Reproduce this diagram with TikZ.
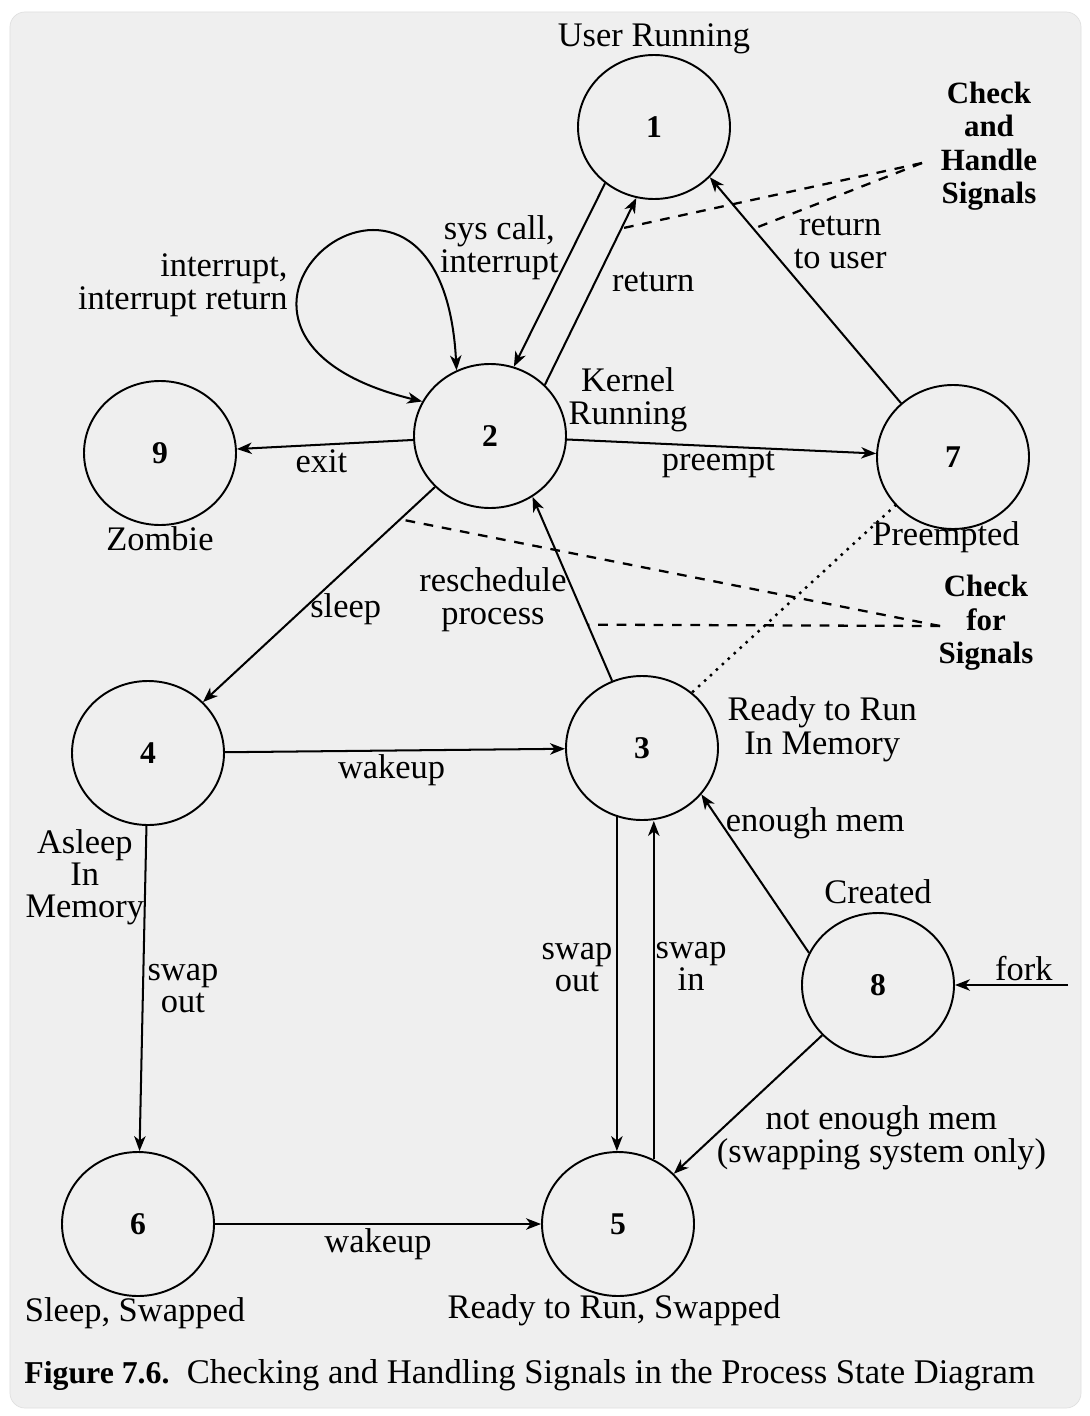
\documentclass[tikz,border=0pt]{standalone}
\usepackage{fontspec}
\setmainfont{Liberation Serif}
\usepackage{tikz}
\usetikzlibrary{shapes,arrows.meta,positioning}
\definecolor{paper}{RGB}{239,239,239}
\tikzstyle{state}=[ellipse,draw=black,line width=1.1pt,inner sep=0pt,minimum width=3.04cm,minimum height=2.88cm,font=\fontsize{18}{18}\selectfont\bfseries]
\tikzstyle{trans}=[->,>={Stealth[length=8.5pt,width=6.5pt,inset=2.5pt]},line width=1.15pt]
\tikzstyle{check}=[dash pattern=on 5.5pt off 5pt,line width=1.3pt]
\tikzstyle{peek}=[line width=2pt,line cap=round,dash pattern=on 0pt off 4.6pt]
\tikzstyle{lbl}=[inner sep=2pt,align=center,font=\fontsize{19.6}{19}\selectfont]
\tikzstyle{note}=[inner sep=0pt,align=center,font=\fontsize{17.6}{19}\selectfont\bfseries]

\begin{document}
\begin{tikzpicture}[on grid]

    \useasboundingbox (0,0) rectangle (21.8,-28.32);
    \fill[white] (0,0) rectangle (21.8,-28.32);
    \filldraw[fill=paper,draw=black!12,rounded corners=0.3cm] (0.2,-0.24) rectangle (21.62,-28.16);

    % Zustaende
    \node[state, label={[lbl,label distance=-2pt]above:User Running}] (s1) at (13.08,-2.54) {1};
    \node[state, label={[lbl,anchor=west,label distance=4pt]26:Kernel\\Running}] (s2) [below left=6.18 and 3.28 of s1] {2};
    \node[state, label={[lbl,label distance=-2pt]below:Zombie}] (s9) [below left=0.34 and 6.60 of s2] {9};
    \node[state, label={[lbl,label distance=-7pt,xshift=-0.14cm]below:Preempted}] (s7) [below right=0.42 and 9.26 of s2] {7};
    \node[state, label={[lbl,anchor=west,label distance=4pt]13:Ready to Run\\In Memory}] (s3) [below right=6.24 and 3.04 of s2] {3};
    \node[state, label={[lbl,anchor=north east,label distance=0pt]below:Asleep\\[-1pt]In\\[-1pt]Memory}] (s4) [below left=0.10 and 9.88 of s3] {4};
    \node[state, label={[lbl,label distance=2.5pt]above:Created}] (s8) [below right=4.74 and 4.72 of s3] {8};
    \node[state, label={[lbl,label distance=-3.4pt,xshift=-0.08cm]below:Ready to Run, Swapped}] (s5) [below left=9.52 and 0.48 of s3] {5};
    \node[state, label={[lbl,label distance=-2pt,xshift=-0.06cm]below:Sleep, Swapped}] (s6) [left=9.60 of s5] {6};
    \coordinate[right=3.8 of s8] (fork);

    % Hinweise
    \node[note] (chkA) at (19.78,-2.92) {Check\\and\\Handle\\Signals};
    \node[note] (chkB) at (19.72,-12.46) {Check\\for\\Signals};
    \coordinate (hdl) at (18.44,-3.26);
    \coordinate (sig) at (18.80,-12.52);

    % Uebergaenge
    \draw[trans] (s1.229) -- node[pos=0.35,left=0.2cm,lbl] {sys call,\\interrupt} (s2.71);
    \draw[trans] (s2.43) -- node[pos=0.55,right=0.25cm,lbl] {return} coordinate[pos=0.837] (ret) (s1.256);
    \draw[trans] (s7.134) -- node[pos=0.71,right=0.48cm,lbl] {return\\to user} coordinate[pos=0.772] (rtu) (s1.318);
    \draw[trans,<->] (s2.153) .. controls +(-5.76,1.4) and +(-0.3,5.84) .. node[pos=0.37,left=0.2cm,lbl,align=right] {interrupt,\\interrupt return} (s2.117);
    \draw[trans] (s2) -- node[pos=0.52,below,lbl] {exit} (s9);
    \draw[trans] (s2) -- node[pos=0.49,below,lbl] {preempt} (s7);
    \draw[trans] (s2) -- node[pos=0.57,right=0.06cm,lbl] {sleep} coordinate[pos=0.15] (slp) (s4);
    \draw[trans] (s3.114) -- node[pos=0.44,left=0.12cm,lbl] {reschedule\\process} coordinate[pos=0.305] (rsc) (s2.305);
    \draw[trans] (s4) -- node[pos=0.49,below,lbl] {wakeup} (s3);
    \draw[trans] (s3.250) -- node[pos=0.45,left,lbl] {swap\\[-1pt]out} (s3.250 |- s5.north);
    \draw[trans] (s5.61) -- node[pos=0.57,right,lbl,inner sep=0.5pt] {swap\\[-1pt]in} (s5.61 |- s3.south);
    \draw[trans] (s8.155) -- node[pos=0.815,right,lbl] {enough mem} (s3.322);
    \draw[trans] (s8.222) -- node[pos=0.74,right,lbl] {not enough mem\\(swapping system only)} (s5.42);
    \draw[trans] (fork) -- node[pos=0.39,above,lbl] {fork} (s8);
    \draw[trans] (s4) -- node[pos=0.5,right,lbl] {swap\\[-1pt]out} (s6);
    \draw[trans] (s6) -- node[below,lbl] {wakeup} (s5);

    % Signale
    \draw[peek] (s7.220) -- (s3.48);
    \draw[check] (hdl) -- (ret);
    \draw[check] (hdl) -- (rtu);
    \draw[check] (sig) -- (slp);
    \draw[check] (sig) -- (rsc);

    % Unterschrift
    \node[anchor=base west,inner sep=0pt,font=\fontsize{19.7}{20}\selectfont] (cap) at (0.48,-27.66) {{\fontsize{18.1}{20}\selectfont\bfseries Figure 7.6.}\ \ Checking and Handling Signals in the Process State Diagram};

\end{tikzpicture}
\end{document}
